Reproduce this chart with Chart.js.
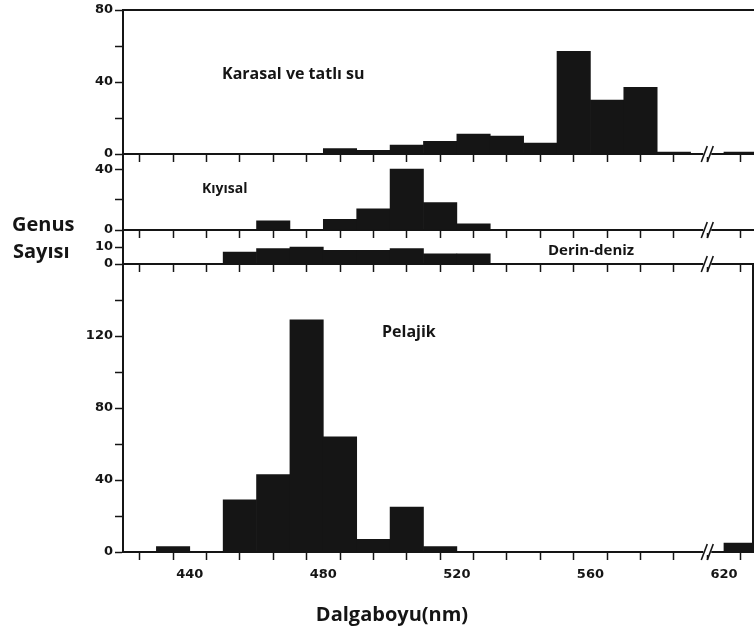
<!DOCTYPE html>
<html lang="tr">
<head>
<meta charset="utf-8">
<title>Genus Sayısı - Dalgaboyu</title>
<script src="https://cdn.jsdelivr.net/npm/chart.js@4.4.1/dist/chart.umd.min.js"></script>
<style>
  html, body { margin: 0; padding: 0; background: #fff; }
  body { width: 754px; height: 638px; position: relative; overflow: hidden; }
  canvas { position: absolute; left: 0; }
</style>
</head>
<body>
<canvas id="karasalChart"></canvas>
<canvas id="kiyisalChart"></canvas>
<canvas id="derinChart"></canvas>
<canvas id="pelajikChart"></canvas>
<script>
// Bin starts in nm (10 nm bins). The axis is broken between 590 and 620.
const binStart = [420, 430, 440, 450, 460, 470, 480, 490, 500, 510, 520, 530, 540, 550, 560, 570, 580, 590, 620];

// Genus counts per bin, one array per habitat
const karasal    = [0, 0, 0, 0, 0, 0, 3, 2, 5, 7, 11, 10, 6, 57, 30, 37, 1, 0, 1];
const kiyisal    = [0, 0, 0, 0, 6, 0, 7, 14, 40, 18, 4, 0, 0, 0, 0, 0, 0, 0, 0];
const derinDeniz = [0, 0, 0, 7, 9, 10, 8, 8, 9, 6, 6, 0, 0, 0, 0, 0, 0, 0, 0];
const pelajik    = [0, 3, 0, 29, 43, 129, 64, 7, 25, 3, 0, 0, 0, 0, 0, 0, 0, 0, 5];

// x axis ticks and labelled ticks (nm)
const xTickNm  = [430, 440, 450, 460, 470, 480, 490, 500, 510, 520, 530, 540, 550, 560, 570, 580, 590, 620];
const xLabelNm = [440, 480, 520, 560, 620];

// y axis ticks and labelled ticks for each panel
const karasalTicks = [0, 20, 40, 60, 80],  karasalLabels = [0, 40, 80];
const kiyisalTicks = [0, 20, 40],          kiyisalLabels = [0, 40];
const derinTicks   = [0, 10],              derinLabels   = [0, 10];
const pelajikTicks = [0, 20, 40, 60, 80, 100, 120, 140], pelajikLabels = [0, 40, 80, 120];

const INK = '#151515';
const TICK_FONT = { family: 'DejaVu Sans', size: 13, weight: 'bold' };

// the break removes 600-620, so 620 sits where 600 would be
const axisPos = nm => nm >= 620 ? nm - 20 : nm;
const axisNm = v => v >= 600 ? v + 20 : v;

// borders, axis break marks and panel texts
const panelDecor = {
    id: 'panelDecor',
    afterDraw(chart, args, opts) {
        const ctx = chart.ctx;
        const a = chart.chartArea;
        const off = opts.canvasTop;
        ctx.save();
        ctx.strokeStyle = INK;
        ctx.fillStyle = INK;
        ctx.lineWidth = 2;
        if (opts.topBorder) {
            ctx.beginPath();
            ctx.moveTo(a.left, a.top);
            ctx.lineTo(a.right, a.top);
            ctx.stroke();
        }
        if (opts.rightBorder) {
            ctx.beginPath();
            ctx.moveTo(a.right - 1, a.top);
            ctx.lineTo(a.right - 1, a.bottom);
            ctx.stroke();
        }
        // axis break "//"
        const bx = chart.scales.x.getPixelForValue((axisPos(590) + axisPos(620)) / 2);
        const by = a.bottom;
        ctx.fillStyle = '#fff';
        ctx.fillRect(bx - 4, by - 3, 8, 6);
        ctx.lineWidth = 1.6;
        [-3, 3].forEach(dx => {
            ctx.beginPath();
            ctx.moveTo(bx + dx - 3, by + 8);
            ctx.lineTo(bx + dx + 3, by - 8);
            ctx.stroke();
        });
        ctx.fillStyle = INK;
        ctx.textBaseline = 'middle';
        (opts.texts || []).forEach(t => {
            ctx.font = t.font;
            ctx.textAlign = t.align || 'left';
            ctx.fillText(t.text, t.x, t.y - off);
        });
        ctx.restore();
    }
};

function makePanel(id, o) {
    const canvas = document.getElementById(id);
    canvas.width = 754;
    canvas.height = o.padTop + (o.bottom - o.top) + o.xAxisH;
    canvas.style.top = (o.top - o.padTop) + 'px';

    return new Chart(canvas, {
        type: 'bar',
        data: {
            datasets: [{
                data: binStart.map((nm, i) => ({ x: axisPos(nm) + 5, y: o.values[i] })),
                backgroundColor: INK,
                borderWidth: 0,
                barPercentage: 1,
                categoryPercentage: 1
            }]
        },
        options: {
            responsive: false,
            animation: false,
            devicePixelRatio: 1,
            layout: { padding: { top: o.padTop, left: 0, right: 0, bottom: 0 } },
            plugins: {
                legend: { display: false },
                tooltip: { enabled: false },
                panelDecor: {
                    canvasTop: o.top - o.padTop,
                    topBorder: o.topBorder,
                    rightBorder: o.rightBorder,
                    texts: o.texts
                }
            },
            scales: {
                x: {
                    type: 'linear',
                    min: 420,
                    max: 609,
                    offset: false,
                    afterBuildTicks: s => { s.ticks = xTickNm.map(nm => ({ value: axisPos(nm) })); },
                    afterFit: s => { s.height = o.xAxisH; s.paddingLeft = 0; s.paddingRight = 0; },
                    grid: { drawOnChartArea: false, drawTicks: true, tickLength: 8, tickColor: INK, tickWidth: 1.5 },
                    border: { display: true, color: INK, width: 2 },
                    ticks: {
                        display: o.showX,
                        autoSkip: false,
                        maxRotation: 0,
                        padding: 7,
                        color: INK,
                        font: TICK_FONT,
                        callback: v => xLabelNm.includes(axisNm(v)) ? String(axisNm(v)) : ''
                    }
                },
                y: {
                    min: 0,
                    max: o.yMax,
                    afterBuildTicks: s => { s.ticks = o.yTicks.map(v => ({ value: v })); },
                    afterFit: s => { s.width = 123; s.paddingTop = 0; s.paddingBottom = 0; },
                    grid: { drawOnChartArea: false, drawTicks: true, tickLength: 8, tickColor: INK, tickWidth: 1.5 },
                    border: { display: true, color: INK, width: 2 },
                    ticks: {
                        autoSkip: false,
                        padding: 2,
                        color: INK,
                        font: TICK_FONT,
                        callback: v => o.yLabels.includes(v) ? String(v) : ''
                    }
                }
            }
        },
        plugins: [panelDecor]
    });
}

makePanel('karasalChart', {
    values: karasal, top: 10, bottom: 154, padTop: 10, xAxisH: 10, yMax: 80,
    yTicks: karasalTicks, yLabels: karasalLabels, showX: false, topBorder: true,
    texts: [{ text: 'Karasal ve tatlı su', x: 222, y: 74, font: 'bold 16px "Open Sans"' }]
});

makePanel('kiyisalChart', {
    values: kiyisal, top: 154, bottom: 230, padTop: 10, xAxisH: 10, yMax: 50,
    yTicks: kiyisalTicks, yLabels: kiyisalLabels, showX: false,
    texts: [{ text: 'Kıyısal', x: 202, y: 189, font: 'bold 14px "Open Sans"' }]
});

makePanel('derinChart', {
    values: derinDeniz, top: 230, bottom: 264, padTop: 40, xAxisH: 10, yMax: 20,
    yTicks: derinTicks, yLabels: derinLabels, showX: false,
    texts: [
        { text: 'Derin-deniz', x: 548, y: 251, font: 'bold 15px "Open Sans"' },
        { text: 'Genus', x: 12, y: 225, font: 'bold 20px "Open Sans"' },
        { text: 'Sayısı', x: 13, y: 252, font: 'bold 20px "Open Sans"' }
    ]
});

makePanel('pelajikChart', {
    values: pelajik, top: 264, bottom: 552, padTop: 10, xAxisH: 86, yMax: 160,
    yTicks: pelajikTicks, yLabels: pelajikLabels, showX: true, rightBorder: true,
    texts: [
        { text: 'Pelajik', x: 382, y: 332, font: 'bold 16px "Open Sans"' },
        { text: 'Dalgaboyu(nm)', x: 392, y: 615, font: 'bold 20px "Open Sans"', align: 'center' }
    ]
});
</script>
</body>
</html>
